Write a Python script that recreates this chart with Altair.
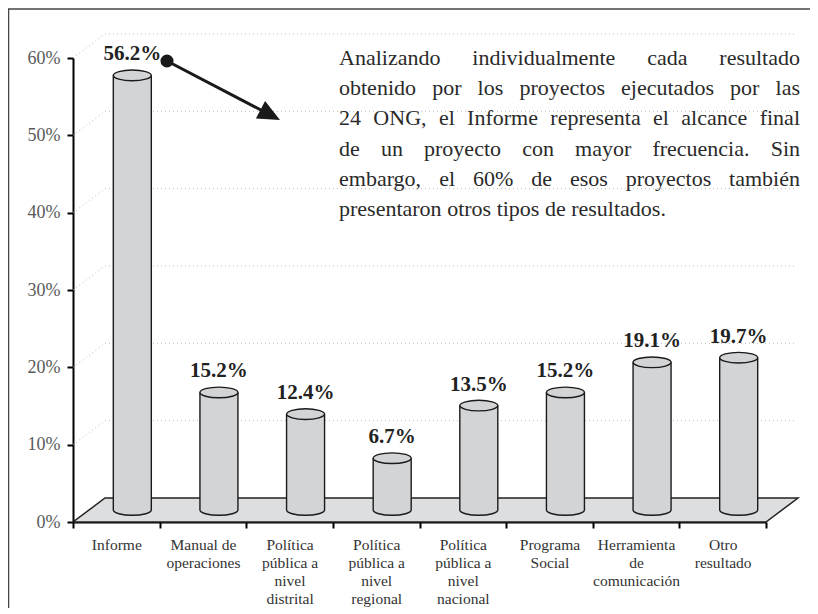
import altair as alt
import pandas as pd

# ---- data ----
categories = [
    "Informe",
    "Manual de\noperaciones",
    "Política\npública a\nnivel\ndistrital",
    "Política\npública a\nnivel\nregional",
    "Política\npública a\nnivel\nnacional",
    "Programa\nSocial",
    "Herramienta\nde\ncomunicación",
    "Otro\nresultado",
]
values = [56.2, 15.2, 12.4, 6.7, 13.5, 15.2, 19.1, 19.7]
y_ticks = [0, 10, 20, 30, 40, 50, 60]
grid_vals = [10, 20, 30, 40, 50, 60]
para_lines = [
    "Analizando individualmente cada resultado",
    "obtenido por los proyectos ejecutados por las",
    "24 ONG, el Informe representa el alcance final",
    "de un proyecto con mayor frecuencia. Sin",
    "embargo, el 60% de esos proyectos también",
    "presentaron otros tipos de resultados.",
]

# ---- layout / style constants ----
W, H = 693, 464
PAD = {"left": 65, "top": 50, "right": 44, "bottom": 86}
DX, DY = 32, 24            # depth of the pseudo-3D floor
CX, CY = DX / 2, -DY / 2   # cylinders stand mid-depth
CW = 38                    # cylinder width
FONT = "Liberation Serif"
BAR_FILL = "#d3d4d6"
FLOOR_FILL = "#dddedf"
INK = "#1a1a1a"

# paragraph box (plot coordinates) and type
P_X0, P_X1, P_Y0, P_LH, P_FS = 266, 727, 7, 30.2, 22

# Times/Liberation Serif advance widths (1/1000 em) for justified layout
TW = {" ": 250, ",": 250, ".": 250, "%": 833, "é": 444, "í": 278, "ó": 500, "á": 444}
TW.update({c: w for c, w in zip("abcdefghijklmnopqrstuvwxyz",
          [444, 500, 444, 500, 444, 333, 500, 500, 278, 278, 500, 278, 778, 500, 500,
           500, 500, 333, 389, 278, 500, 500, 722, 500, 500, 444])})
TW.update({c: w for c, w in zip("ABCDEFGHIJKLMNOPQRSTUVWXYZ",
          [722, 667, 667, 722, 611, 556, 722, 722, 333, 389, 722, 611, 889, 722, 722,
           556, 722, 667, 556, 611, 722, 722, 944, 722, 722, 611])})
TW.update({d: 500 for d in "0123456789"})


def text_w(s):
    return sum(TW.get(c, 500) for c in s) * P_FS / 1000


words = []
for i, line in enumerate(para_lines):
    ws = line.split(" ")
    widths = [text_w(w) for w in ws]
    if i < len(para_lines) - 1 and len(ws) > 1:
        gap = (P_X1 - P_X0 - sum(widths)) / (len(ws) - 1)
    else:
        gap = text_w(" ")
    x = P_X0
    for w, wd in zip(ws, widths):
        words.append({"word": w, "px": x, "py": P_Y0 + i * P_LH})
        x += wd + gap
words_df = pd.DataFrame(words)

df = pd.DataFrame({"cat": categories, "value": values})
df["label"] = [f"{v:.1f}%" for v in values]
one = alt.Data(values=[{"a": 1}])

x_enc = alt.X(
    "cat:N", sort=categories, title=None,
    scale=alt.Scale(paddingInner=0, paddingOuter=0),
    axis=alt.Axis(
        labelExpr="split(datum.label, '\\n')", labelAngle=0, labelFont=FONT,
        labelFontSize=15.5, labelLineHeight=18, labelColor="#333", labelPadding=9,
        labelBaseline="top", tickBand="extent", tickColor="black", tickWidth=2,
        tickSize=6, domainColor="black", domainWidth=2, grid=False,
    ),
)
y_scale = alt.Scale(domain=[0, 60], nice=False)
y_enc = alt.Y(
    "value:Q", scale=y_scale, title=None,
    axis=alt.Axis(
        values=y_ticks, labelExpr="datum.value + '%'", labelFont=FONT,
        labelFontSize=18, labelColor="#5a5a5a", labelPadding=7, tickColor="black",
        tickWidth=2, tickSize=6, domainColor="black", domainWidth=2, grid=False,
    ),
)

# frame (top and left lines)
frame_top = alt.Chart(one).mark_rule(color="#444", strokeWidth=1.5).encode(
    x=alt.value(-PAD["left"]), x2=alt.value(W + PAD["right"]), y=alt.value(-PAD["top"] + 1)
)
frame_left = alt.Chart(one).mark_rule(color="#444", strokeWidth=1.5).encode(
    x=alt.value(-PAD["left"] + 0.5), y=alt.value(-PAD["top"] + 1), y2=alt.value(H + PAD["bottom"])
)

grid_df = pd.DataFrame({"value": grid_vals})
grid_back = alt.Chart(grid_df).mark_rule(
    color="#bbbbbb", strokeDash=[1, 3], strokeWidth=1, yOffset=-DY
).encode(y=alt.Y("value:Q", scale=y_scale), x=alt.value(DX), x2=alt.value(W + DX - 4))
grid_side = alt.Chart(grid_df).mark_rule(
    color="#bbbbbb", strokeDash=[1, 3], strokeWidth=1, y2Offset=-DY
).encode(
    y=alt.Y("value:Q", scale=y_scale), y2=alt.Y2("value:Q"),
    x=alt.value(0), x2=alt.value(DX),
)

floor_path = f"M0,0 L{W},0 L{W + DX},{-DY} L{DX},{-DY} Z"
floor = alt.Chart(one).mark_point(
    shape=floor_path, size=4, filled=True, fill=FLOOR_FILL, stroke="#222",
    strokeWidth=1.5, opacity=1,
).encode(x=alt.value(0), y=alt.value(H))

base = alt.Chart(df)
axes = base.mark_bar(opacity=0).encode(x=x_enc, y=y_enc)

body = base.mark_bar(
    size=CW, xOffset=CX, yOffset=CY, y2Offset=CY, color=BAR_FILL, strokeWidth=0
).encode(x=alt.X("cat:N", sort=categories), y=alt.Y("value:Q", scale=y_scale), y2=alt.datum(0))

side_l = base.mark_rule(
    xOffset=CX - CW / 2, yOffset=CY, y2Offset=CY, color=INK, strokeWidth=1.4
).encode(x=alt.X("cat:N", sort=categories), y=alt.Y("value:Q", scale=y_scale), y2=alt.datum(0))
side_r = base.mark_rule(
    xOffset=CX + CW / 2, yOffset=CY, y2Offset=CY, color=INK, strokeWidth=1.4
).encode(x=alt.X("cat:N", sort=categories), y=alt.Y("value:Q", scale=y_scale), y2=alt.datum(0))

r = 0.28
k = 0.552
bottom_arc = f"M -1 0 C -1 {k*r:.3f} {-k:.3f} {r} 0 {r} C {k:.3f} {r} 1 {k*r:.3f} 1 0"
ellipse = (
    f"M -1 0 C -1 {-k*r:.3f} {-k:.3f} {-r} 0 {-r} C {k:.3f} {-r} 1 {-k*r:.3f} 1 0 "
    f"C 1 {k*r:.3f} {k:.3f} {r} 0 {r} C {-k:.3f} {r} -1 {k*r:.3f} -1 0 Z"
)
bottom = base.mark_point(
    shape=bottom_arc, size=CW * CW, filled=True, fill=BAR_FILL, stroke=INK,
    strokeWidth=1.4, opacity=1, xOffset=CX, yOffset=CY,
).encode(x=alt.X("cat:N", sort=categories), y=alt.datum(0))
top = base.mark_point(
    shape=ellipse, size=CW * CW, filled=True, fill=BAR_FILL, stroke=INK,
    strokeWidth=1.4, opacity=1, xOffset=CX, yOffset=CY,
).encode(x=alt.X("cat:N", sort=categories), y=alt.Y("value:Q", scale=y_scale))

labels = base.mark_text(
    font=FONT, fontSize=21, fontWeight="bold", color="#222", baseline="alphabetic",
    xOffset=CX, yOffset=CY - 15,
).encode(x=alt.X("cat:N", sort=categories), y=alt.Y("value:Q", scale=y_scale), text="label:N")

para = alt.Chart(words_df).mark_text(
    font=FONT, fontSize=P_FS, align="left", baseline="alphabetic", color="#2a2a2a",
).encode(
    x=alt.X("px:Q", scale=None), y=alt.Y("py:Q", scale=None), text="word:N"
)

# arrow annotation
arrow_dot = alt.Chart(one).mark_point(
    shape="circle", size=170, filled=True, color=INK, opacity=1
).encode(x=alt.value(94), y=alt.value(3))
arrow_line = alt.Chart(one).mark_rule(color=INK, strokeWidth=3).encode(
    x=alt.value(94), x2=alt.value(198), y=alt.value(3), y2=alt.value(57.3)
)
arrow_head = alt.Chart(one).mark_point(
    shape="M 0 0 L -1 -0.45 L -1 0.45 Z", size=44 * 44, filled=True, color=INK,
    opacity=1, angle=27.6,
).encode(x=alt.value(207), y=alt.value(62))

chart = alt.layer(
    frame_top, frame_left, grid_back, grid_side, floor, axes,
    body, bottom, side_l, side_r, top, labels, para,
    arrow_line, arrow_dot, arrow_head,
).properties(
    width=W, height=H, padding=PAD, autosize=alt.AutoSizeParams(type="none"),
    background="white",
).configure_view(stroke=None)

chart.save("out.html", embed_options={"renderer": "svg", "actions": False})
